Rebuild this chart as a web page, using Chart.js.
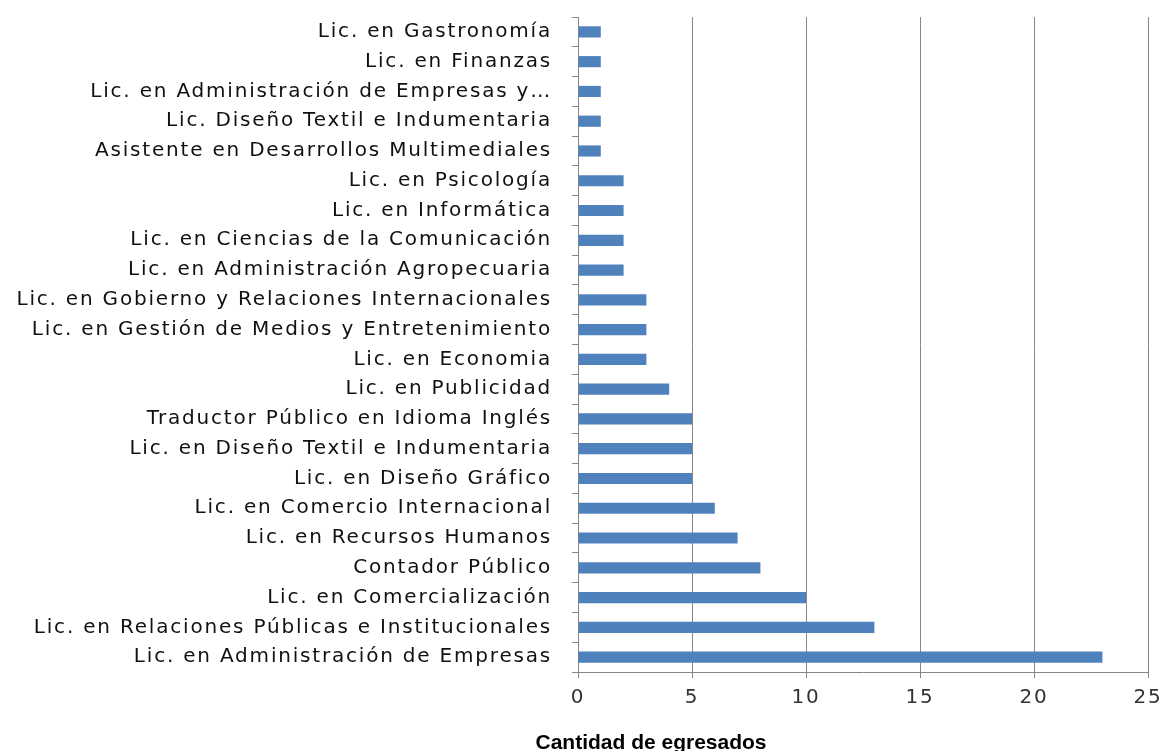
<!DOCTYPE html>
<html>
<head>
<meta charset="utf-8">
<script src="https://cdn.jsdelivr.net/npm/chart.js@4.4.0/dist/chart.umd.min.js"></script>
<style>
  html, body { margin: 0; padding: 0; background: #fff; }
  #wrap { width: 1164px; height: 751px; position: relative; }
</style>
</head>
<body>
<div id="wrap"><canvas id="chart"></canvas></div>
<script>
// careers, top to bottom as in the picture
const careers = [
    'Lic. en Gastronomía',
    'Lic. en Finanzas',
    'Lic. en Administración de Empresas y…',
    'Lic. Diseño Textil e Indumentaria',
    'Asistente en Desarrollos Multimediales',
    'Lic. en Psicología',
    'Lic. en Informática',
    'Lic. en Ciencias de la Comunicación',
    'Lic. en Administración Agropecuaria',
    'Lic. en Gobierno y Relaciones Internacionales',
    'Lic. en Gestión de Medios y Entretenimiento',
    'Lic. en Economia',
    'Lic. en Publicidad',
    'Traductor Público en Idioma Inglés',
    'Lic. en Diseño Textil e Indumentaria',
    'Lic. en Diseño Gráfico',
    'Lic. en Comercio Internacional',
    'Lic. en Recursos Humanos',
    'Contador Público',
    'Lic. en Comercialización',
    'Lic. en Relaciones Públicas e Institucionales',
    'Lic. en Administración de Empresas'
];
const graduates = [1, 1, 1, 1, 1, 2, 2, 2, 2, 3, 3, 3, 4, 5, 5, 5, 6, 7, 8, 10, 13, 23];
const xTicks = [0, 5, 10, 15, 20, 25];
const axisTitle = 'Cantidad de egresados';

// the original font is a stretched one, so widen the letters a bit
const wideText = {
    id: 'wideText',
    beforeDraw(chart) {
        chart.ctx.letterSpacing = '1.8px';
    }
};

// draws the axis title where the original has it (not centred on the plot)
const bottomTitle = {
    id: 'bottomTitle',
    afterDraw(chart) {
        const ctx = chart.ctx;
        ctx.save();
        ctx.letterSpacing = '0px';
        ctx.font = 'bold 21px "Liberation Sans", Arial, sans-serif';
        ctx.fillStyle = '#000';
        ctx.textAlign = 'center';
        ctx.textBaseline = 'middle';
        ctx.fillText(axisTitle, 651, 743);
        ctx.restore();
    }
};

const ctx = document.getElementById('chart').getContext('2d');
new Chart(ctx, {
    type: 'bar',
    data: {
        labels: careers,
        datasets: [{
            label: axisTitle,
            data: graduates,
            backgroundColor: '#4F81BD',
            borderWidth: 0,
            barPercentage: 0.75,
            categoryPercentage: 0.5
        }]
    },
    options: {
        indexAxis: 'y',
        responsive: true,
        maintainAspectRatio: false,
        animation: false,
        layout: { padding: { top: 17, right: 16, left: 0, bottom: 0 } },
        plugins: {
            legend: { display: false },
            tooltip: { enabled: false }
        },
        scales: {
            x: {
                min: 0,
                max: 25,
                afterBuildTicks: (scale) => { scale.ticks = xTicks.map(v => ({ value: v })); },
                afterFit: (scale) => {
                    scale.height = 79;
                    scale.paddingLeft = 0;
                    scale.paddingRight = 0;
                },
                grid: {
                    color: '#868686',
                    lineWidth: 1,
                    tickLength: 6,
                    drawTicks: true
                },
                border: { color: '#868686' },
                ticks: {
                    color: '#333',
                    padding: 8,
                    font: { family: '"DejaVu Sans", sans-serif', size: 20 }
                }
            },
            y: {
                afterFit: (scale) => {
                    scale.width = 578;
                    scale.paddingTop = 0;
                    scale.paddingBottom = 0;
                },
                grid: {
                    offset: true,
                    drawOnChartArea: false,
                    color: '#868686',
                    tickLength: 6
                },
                border: { color: '#868686' },
                ticks: {
                    color: '#111',
                    padding: 20,
                    autoSkip: false,
                    font: { family: '"DejaVu Sans", sans-serif', size: 20 }
                }
            }
        }
    },
    plugins: [wideText, bottomTitle]
});
</script>
</body>
</html>
